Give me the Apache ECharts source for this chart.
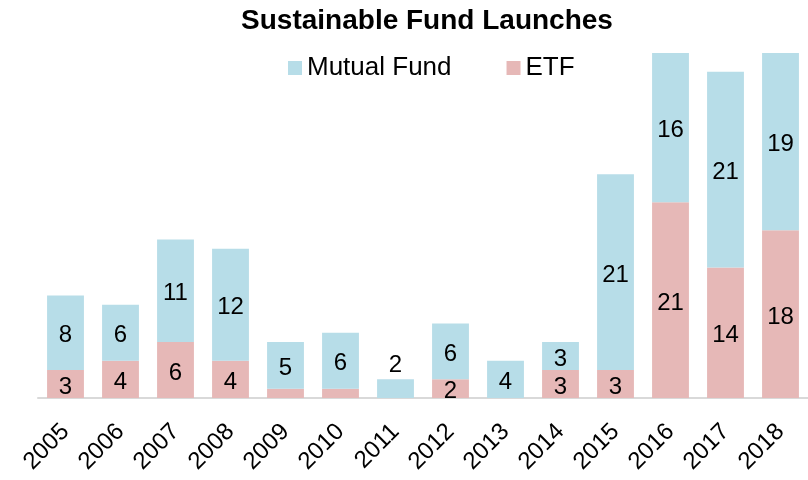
<!DOCTYPE html>
<html><head><meta charset="utf-8">
<script src="https://cdn.jsdelivr.net/npm/echarts@6/dist/echarts.min.js"></script>
<style>html,body{margin:0;padding:0;background:#fff}#c{width:808px;height:480px}</style>
</head><body><div id="c"></div>
<script>
const categories = ['2005','2006','2007','2008','2009','2010','2011','2012','2013','2014','2015','2016','2017','2018'];
const etf = [3,4,6,4,1,1,0,2,0,3,3,21,14,18];
const mutualFund = [8,6,11,12,5,6,2,6,4,3,21,16,21,19];
const FF = 'Liberation Sans, Arial, sans-serif';
const labelFont = {fontFamily:FF, fontSize:24, color:'#000'};

const etfData = etf.map(v => ({value:v, label:{show: v >= 2}}));
const mfData = mutualFund.map(v => v <= 2 ? {value:v, label:{position:'top', distance:2, offset:[0,0]}} : {value:v});

const chart = echarts.init(document.getElementById('c'), null, {renderer:'canvas'});
chart.setOption({
  animation:false,
  textStyle:{fontFamily:FF},
  title:{text:'Sustainable Fund Launches', left:422, textAlign:'center', top:2,
    textStyle:{fontSize:28, fontWeight:'bold', color:'#000', fontFamily:FF}},
  legend:{data:['Mutual Fund','ETF'], left:283, top:50, itemWidth:14, itemHeight:14, itemGap:55,
    icon:'rect', textStyle:{fontSize:26, color:'#000', fontFamily:FF}},
  grid:{left:38, right:0, top:53, bottom:82},
  xAxis:{type:'category', data:categories,
    axisLine:{lineStyle:{color:'#D9D9D9', width:2}}, axisTick:{show:false},
    axisLabel:{rotate:45, fontSize:24, color:'#000', margin:30, interval:0, fontFamily:FF}},
  yAxis:{type:'value', min:0, max:37, show:false, splitLine:{show:false}},
  series:[
    {name:'ETF', type:'bar', stack:'s', data:etfData, barWidth:'67%',
      itemStyle:{color:'#E6B8B7'}, label:{show:true, position:'inside', offset:[0,3], ...labelFont}},
    {name:'Mutual Fund', type:'bar', stack:'s', data:mfData, barWidth:'67%',
      itemStyle:{color:'#B7DDE8'}, label:{show:true, position:'inside', offset:[0,3], ...labelFont}}
  ]
});
</script></body></html>
